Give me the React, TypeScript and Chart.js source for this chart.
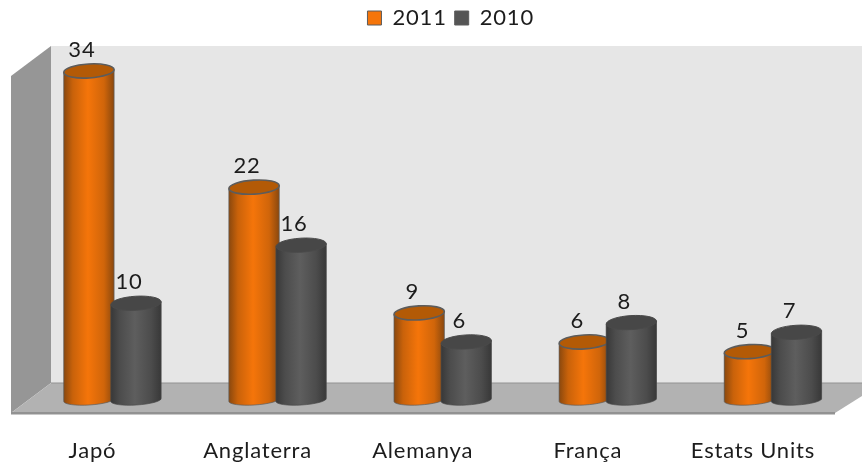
import React, { useEffect, useRef } from "react";
import { Chart, registerables } from "chart.js";

Chart.register(...registerables);

const categories = ["Japó", "Anglaterra", "Alemanya", "França", "Estats Units"];
const series2011 = [34, 22, 9, 6, 5];
const series2010 = [10, 16, 6, 8, 7];

const FONT = "Lato";
const FONT_SIZE = 22;
const SPACING = "0.8px";
const TEXT = "#1c1c1c";
const ORANGE_STOPS = ["#8a480e", "#c9620a", "#f5750a", "#d0650a", "#8a480e"];
const GRAY_STOPS = ["#383838", "#4c4c4c", "#5e5e5e", "#4c4c4c", "#383838"];
const TOPS = ["#b35a06", "#474747"];
const STROKES = ["#5c5c5c", "#4a4a4a"];
const STOPS = [ORANGE_STOPS, GRAY_STOPS];

const scene = {
  id: "scene",
  beforeUpdate(chart: any) {
    chart.ctx.letterSpacing = SPACING;
  },
  beforeDraw(chart: any) {
    chart.ctx.letterSpacing = SPACING;
  },
  afterLayout(chart: any) {
    if (chart.legend) {
      chart.legend.left += 8;
      chart.legend.right += 8;
      chart.legend.top -= 1;
      chart.legend.bottom -= 1;
    }
  },
  beforeDatasetsDraw(chart: any) {
    const { ctx, chartArea } = chart;
    const floorBack = chartArea.bottom - 17;
    const floorFront = chartArea.bottom + 13;
    const wallX = 51;
    const edgeX = 11;
    const depth = floorFront - floorBack;
    const wallTop = 46;
    const right = chart.width;
    ctx.save();
    ctx.fillStyle = "#e6e6e6";
    ctx.fillRect(wallX, wallTop, right - wallX, floorBack - wallTop);
    ctx.fillStyle = "#969696";
    ctx.beginPath();
    ctx.moveTo(edgeX, wallTop + depth);
    ctx.lineTo(wallX, wallTop);
    ctx.lineTo(wallX, floorBack);
    ctx.lineTo(edgeX, floorFront);
    ctx.closePath();
    ctx.fill();
    ctx.fillStyle = "#b2b2b2";
    ctx.beginPath();
    ctx.moveTo(edgeX, floorFront);
    ctx.lineTo(wallX, floorBack);
    ctx.lineTo(right, floorBack);
    ctx.lineTo(right, floorFront - 17);
    ctx.lineTo(835, floorFront);
    ctx.closePath();
    ctx.fill();
    ctx.fillStyle = "#929292";
    ctx.fillRect(edgeX, floorFront - 1, 824, 2.5);
    ctx.fillRect(wallX, floorBack - 0.5, right - wallX, 1);
    ctx.restore();
  },
  afterDatasetsDraw(chart: any) {
    const { ctx } = chart;
    const tilt = -0.06;
    const ryTop = 7;
    const ryBottom = 5;
    [0, 1].forEach((d) => {
      const meta = chart.getDatasetMeta(d);
      meta.data.forEach((bar: any) => {
        const half = bar.width / 2;
        const l = bar.x - half;
        const r = bar.x + half;
        const grad = ctx.createLinearGradient(l, 0, r, 0);
        STOPS[d].forEach((c: string, i: number) => grad.addColorStop([0, 0.18, 0.48, 0.8, 1][i], c));
        const dy = half * Math.sin(-tilt);
        ctx.save();
        ctx.beginPath();
        ctx.moveTo(l, bar.y + dy);
        ctx.lineTo(l, bar.base + dy);
        ctx.ellipse(bar.x, bar.base, half, ryBottom, tilt, Math.PI, 0, true);
        ctx.lineTo(r, bar.y - dy);
        ctx.closePath();
        ctx.fillStyle = grad;
        ctx.fill();
        ctx.strokeStyle = STROKES[d];
        ctx.globalAlpha = 0.7;
        ctx.lineWidth = 1;
        ctx.stroke();
        ctx.globalAlpha = 1;
        ctx.beginPath();
        ctx.ellipse(bar.x, bar.y, half, ryTop, tilt, 0, Math.PI * 2);
        ctx.fillStyle = TOPS[d];
        ctx.fill();
        ctx.lineWidth = d === 0 ? 1.6 : 1;
        ctx.stroke();
        ctx.restore();
      });
    });
    [0, 1].forEach((d) => {
      const meta = chart.getDatasetMeta(d);
      const values = chart.data.datasets[d].data;
      meta.data.forEach((bar: any, i: number) => {
        ctx.save();
        ctx.font = `${FONT_SIZE}px ${FONT}`;
        ctx.fillStyle = TEXT;
        ctx.textAlign = "center";
        ctx.textBaseline = "middle";
        ctx.fillText(String(values[i]), bar.x - 7, bar.y - 21);
        ctx.restore();
      });
    });
  },
};

export default function App() {
  const ref = useRef<HTMLCanvasElement>(null);
  useEffect(() => {
    const canvas = ref.current as HTMLCanvasElement;
    const chart = new Chart(canvas, {
      type: "bar",
      data: {
        labels: categories,
        datasets: [
          { label: "2011", data: series2011, backgroundColor: "#f5750a", borderColor: "#5c5c5c", borderWidth: 1 },
          { label: "2010", data: series2010, backgroundColor: "#555555", borderColor: "#5c5c5c", borderWidth: 1 },
        ],
      },
      options: {
        responsive: false,
        animation: false,
        layout: { padding: { left: 29.9, right: 6.5, top: 0, bottom: 0 } },
        datasets: { bar: { categoryPercentage: 0.57, barPercentage: 1.07 } },
        plugins: {
          legend: {
            position: "top",
            labels: {
              boxWidth: 14,
              boxHeight: 14,
              padding: 8,
              color: TEXT,
              font: { family: FONT, size: FONT_SIZE },
            },
          },
          tooltip: { enabled: false },
        },
        scales: {
          x: {
            grid: { display: false, drawBorder: false },
            border: { display: false },
            afterFit: (s: any) => {
              s.height = 65;
              s.paddingLeft = 0;
              s.paddingRight = 0;
            },
            ticks: {
              color: TEXT,
              padding: 30,
              labelOffset: -20,
              maxRotation: 0,
              autoSkip: false,
              font: { family: FONT, size: FONT_SIZE },
            },
          },
          y: { display: false, min: 0, max: 37.2 },
        },
      },
      plugins: [scene],
    } as any);
    return () => chart.destroy();
  }, []);
  return (
    <div style={{ position: "fixed", left: 0, top: 0, width: 862, height: 465, background: "#fff" }}>
      <canvas ref={ref} width={862} height={465} style={{ display: "block" }} />
    </div>
  );
}
